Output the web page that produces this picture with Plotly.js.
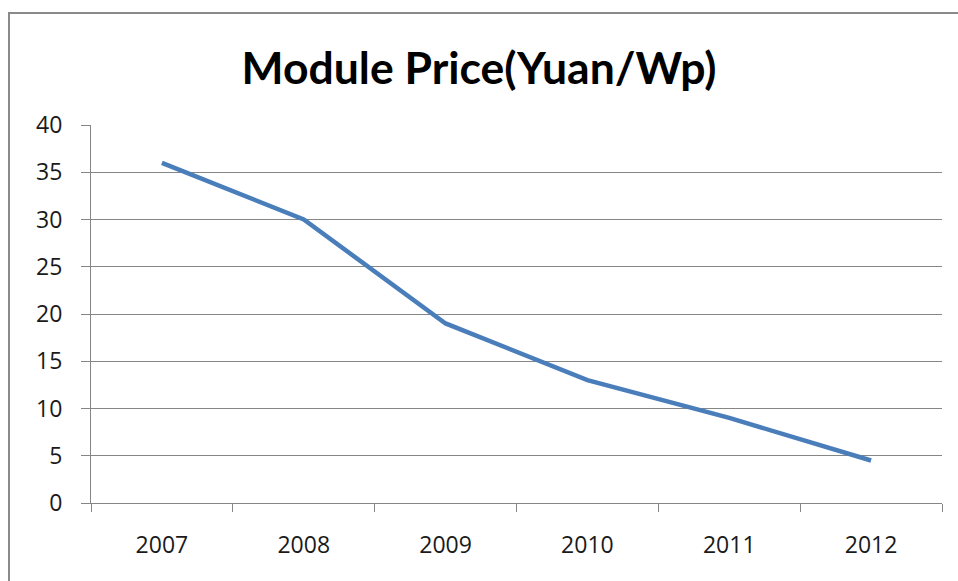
<!DOCTYPE html>
<html>
<head>
<meta charset="utf-8">
<script src="https://cdn.plot.ly/plotly-3.0.1.min.js"></script>
<style>
html,body{margin:0;padding:0;background:#fff;}
#wrap{position:relative;width:958px;height:581px;overflow:hidden;}
#chart{position:absolute;left:0;top:0;width:958px;height:581px;}
#frame{position:absolute;left:8px;top:12px;width:960px;height:600px;border-left:2px solid #8a8a8a;border-top:2px solid #8a8a8a;pointer-events:none;}
</style>
</head>
<body>
<div id="wrap"><div id="chart"></div><div id="frame"></div></div>
<script>
const years = ["2007","2008","2009","2010","2011","2012"];
const price = [36, 30, 19, 13, 9, 4.5];
const yTicks = [0,5,10,15,20,25,30,35,40];

const trace = {
  x: years, y: price, type: "scatter", mode: "lines",
  line: {color: "#4a7ebb", width: 4.5},
  hoverinfo: "skip"
};
const layout = {
  width: 958, height: 581,
  margin: {l: 91, r: 16, t: 125, b: 78},
  paper_bgcolor: "#ffffff", plot_bgcolor: "#ffffff",
  showlegend: false,
  title: {text: "<b>Module Price(Yuan/Wp)</b>", x: 0.5, xanchor: "center", y: 0.883, yanchor: "middle",
          font: {family: "Lato, 'Open Sans', sans-serif", size: 44.5, color: "#000"}},
  xaxis: {type: "category", range: [-0.5, 5.5], tickson: "boundaries", ticks: "outside", ticklen: 8, tickcolor: "#868686",
          showline: true, linecolor: "#868686", linewidth: 1, showgrid: false, zeroline: false,
          tickfont: {family: "'Open Sans', 'Noto Sans', sans-serif", size: 23, color: "#1a1a1a"},
          ticklabelstandoff: 21, fixedrange: true},
  yaxis: {range: [0, 40], tickvals: yTicks, ticktext: yTicks.map(String), ticks: "outside", ticklen: 9, tickcolor: "#868686",
          showline: true, linecolor: "#868686", linewidth: 1, showgrid: true, gridcolor: "#868686", gridwidth: 1,
          zeroline: false,
          tickfont: {family: "'Open Sans', 'Noto Sans', sans-serif", size: 23, color: "#1a1a1a"},
          ticklabelstandoff: 14, fixedrange: true}
};
Plotly.newPlot("chart", [trace], layout, {displayModeBar: false, staticPlot: true});
</script>
</body>
</html>
